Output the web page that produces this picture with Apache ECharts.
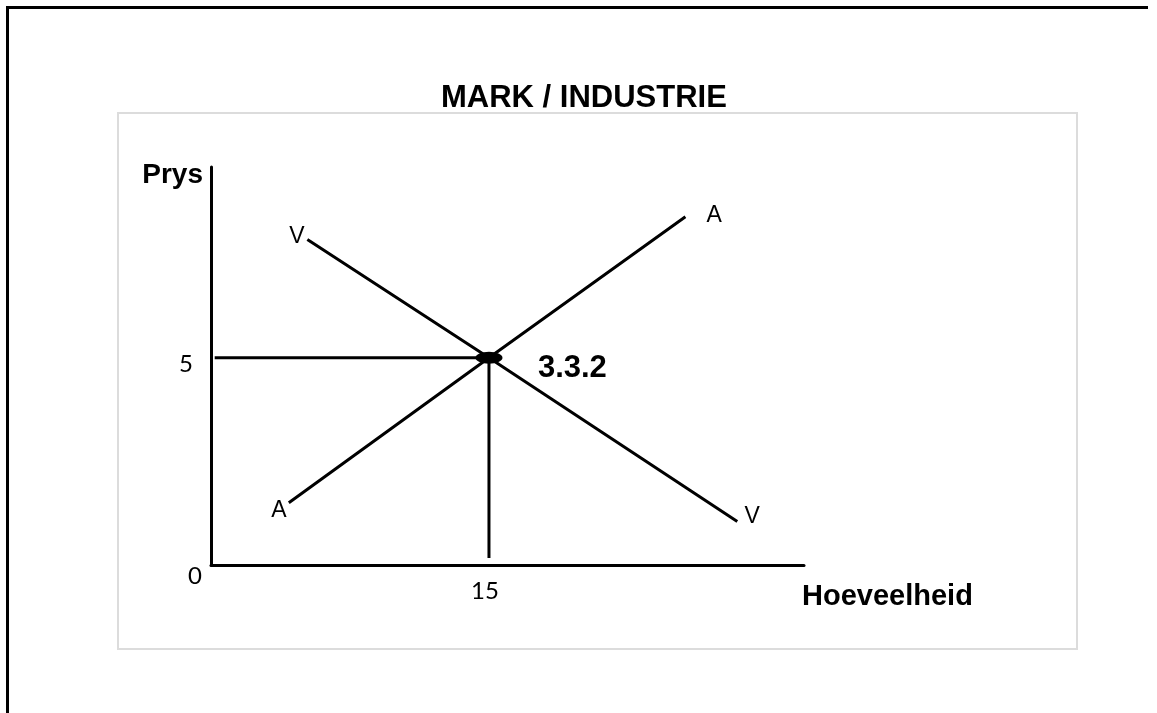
<!DOCTYPE html>
<html>
<head>
<meta charset="utf-8">
<title>MARK / INDUSTRIE</title>
<script src="https://cdn.jsdelivr.net/npm/echarts@6/dist/echarts.min.js"></script>
<style>
  html, body { margin: 0; padding: 0; background: #fff; }
  body { width: 1157px; height: 713px; position: relative; overflow: hidden; }
  .outer { position: absolute; left: 6px; top: 6px; width: 1139px; height: 760px; border-left: 3px solid #000; border-top: 3px solid #000; }
  .inner { position: absolute; left: 117px; top: 112px; width: 957px; height: 534px; border: 2px solid #dcdcdc; }
  #chart { position: absolute; left: 0; top: 0; width: 1157px; height: 713px; }
</style>
</head>
<body>
<div class="outer"></div>
<div class="inner"></div>
<div id="chart"></div>
<script>
// aanbod (A) en vraag (V) lyne, hoeveelheid op x, prys op y
const aanbodX = [4.2, 15, 25.6];
const aanbodY = [1.5, 5, 8.4];
const vraagX = [5.2, 15, 28.4];
const vraagY = [7.85, 5, 1.05];

// ewewigspunt en hulplyne
const ewewig = [15, 5];
const prysLynX = [0.2, 15];
const prysLynY = [5, 5];
const hoevLynX = [15, 15];
const hoevLynY = [0.17, 5];

// byskrifte op die lyne
const byskrifNaam = ['A', 'A', 'V', 'V'];
const byskrifX = [3.67, 27.15, 4.64, 29.2];
const byskrifY = [1.3, 8.42, 7.91, 1.16];
const puntNaam = '3.3.2';
const puntPos = [19.5, 4.75];

// as-merkers
const xMerkers = [15];
const yMerkers = [0, 5];

const chart = echarts.init(document.getElementById('chart'));

const lyn = (xs, ys) => xs.map((x, i) => [x, ys[i]]);
const swart = { color: '#000', width: 3 };
const syfer = { fontFamily: 'Lato', fontSize: 24, color: '#000' };

chart.setOption({
  backgroundColor: 'transparent',
  animation: false,
  title: {
    text: 'MARK / INDUSTRIE',
    left: 436,
    top: 78,
    textStyle: { fontFamily: 'Liberation Sans', fontSize: 31, fontWeight: 'bold', color: '#000' }
  },
  grid: { left: 211, top: 167, width: 593, height: 398 },
  xAxis: {
    type: 'value',
    min: 0,
    max: 32,
    name: 'Hoeveelheid',
    nameLocation: 'end',
    nameGap: -2,
    nameTextStyle: {
      fontFamily: 'Liberation Sans', fontSize: 29, fontWeight: 'bold', color: '#000',
      align: 'left', verticalAlign: 'top', padding: [17, 0, 0, 0]
    },
    axisLine: { show: true, lineStyle: swart },
    axisTick: { show: false },
    splitLine: { show: false },
    axisLabel: {
      customValues: xMerkers,
      margin: 14,
      formatter: v => '{a|' + v + '}',
      rich: { a: Object.assign({ padding: [0, 8, 0, 0] }, syfer) }
    }
  },
  yAxis: {
    type: 'value',
    min: 0,
    max: 9.6,
    name: 'Prys',
    nameLocation: 'end',
    nameGap: 6,
    nameTextStyle: {
      fontFamily: 'Liberation Sans', fontSize: 28, fontWeight: 'bold', color: '#000',
      align: 'right', verticalAlign: 'top', padding: [0, 8, 0, 0]
    },
    axisLine: { show: true, lineStyle: swart },
    axisTick: { show: false },
    splitLine: { show: false },
    axisLabel: {
      customValues: yMerkers,
      margin: 9,
      formatter: v => (v === 0 ? '{nul|' : '{a|') + v + '}',
      rich: {
        nul: Object.assign({ padding: [22, 0, 0, 0] }, syfer),
        a: Object.assign({ padding: [14, 9, 0, 0] }, syfer)
      }
    }
  },
  series: [
    { name: 'Aanbod', type: 'line', data: lyn(aanbodX, aanbodY), symbol: 'none', lineStyle: swart },
    { name: 'Vraag', type: 'line', data: lyn(vraagX, vraagY), symbol: 'none', lineStyle: swart },
    { name: 'Prys', type: 'line', data: lyn(prysLynX, prysLynY), symbol: 'none', lineStyle: swart },
    { name: 'Hoeveelheid', type: 'line', data: lyn(hoevLynX, hoevLynY), symbol: 'none', lineStyle: swart },
    {
      name: 'Ewewig',
      type: 'scatter',
      data: [ewewig],
      symbol: 'circle',
      symbolSize: [27, 12],
      itemStyle: { color: '#000', opacity: 1 },
      z: 5
    },
    {
      name: 'Byskrifte',
      type: 'scatter',
      symbolSize: 0,
      itemStyle: { opacity: 1 },
      data: byskrifNaam.map((n, i) => ({ name: n, value: [byskrifX[i], byskrifY[i]] })),
      label: {
        show: true,
        position: 'inside',
        formatter: '{b}',
        fontFamily: 'Liberation Sans', fontSize: 23, color: '#000', textBorderWidth: 0
      }
    },
    {
      name: 'Punt',
      type: 'scatter',
      symbolSize: 0,
      itemStyle: { opacity: 1 },
      data: [{ name: puntNaam, value: puntPos }],
      label: {
        show: true,
        position: 'inside',
        formatter: '{b}',
        fontFamily: 'Liberation Sans', fontSize: 31, fontWeight: 'bold', color: '#000', textBorderWidth: 0
      }
    }
  ]
});
</script>
</body>
</html>
